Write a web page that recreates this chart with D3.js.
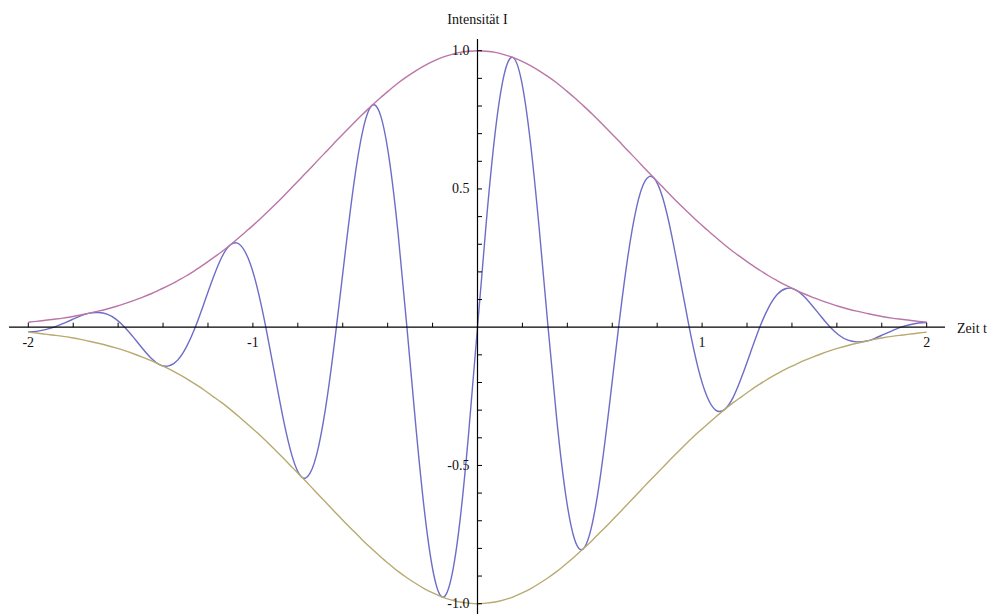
<!DOCTYPE html>
<html>
<head>
<meta charset="utf-8">
<script src="https://cdn.jsdelivr.net/npm/d3@7"></script>
<style>
  html, body { margin: 0; padding: 0; background: #fff; }
  svg { display: block; }
  text { font-family: "Liberation Serif", "Times New Roman", serif; fill: #111; }
</style>
</head>
<body>
<svg id="chart" width="995" height="614"></svg>
<script>
// Time samples t (s)
const time = [-2, -1.9635, -1.9242, -1.8850, -1.8457, -1.8064, -1.7671, -1.7279, -1.6886, -1.6493, -1.6101,
  -1.5708, -1.5315, -1.4923, -1.4530, -1.4137, -1.3744, -1.3352, -1.2959, -1.2566, -1.2174,
  -1.1781, -1.1388, -1.0996, -1.0603, -1.0210, -0.9817, -0.9425, -0.9032, -0.8639, -0.8247,
  -0.7854, -0.7461, -0.7069, -0.6676, -0.6283, -0.5890, -0.5498, -0.5105, -0.4712, -0.4320,
  -0.3927, -0.3534, -0.3142, -0.2749, -0.2356, -0.1963, -0.1571, -0.1178, -0.0785, -0.0393,
  0,
  0.0393, 0.0785, 0.1178, 0.1571, 0.1963, 0.2356, 0.2749, 0.3142, 0.3534, 0.3927,
  0.4320, 0.4712, 0.5105, 0.5498, 0.5890, 0.6283, 0.6676, 0.7069, 0.7461, 0.7854,
  0.8247, 0.8639, 0.9032, 0.9425, 0.9817, 1.0210, 1.0603, 1.0996, 1.1388, 1.1781,
  1.2174, 1.2566, 1.2959, 1.3352, 1.3744, 1.4137, 1.4530, 1.4923, 1.5315, 1.5708,
  1.6101, 1.6493, 1.6886, 1.7279, 1.7671, 1.8064, 1.8457, 1.8850, 1.9242, 1.9635, 2];

// Intensity of the wave packet
const wave = [-0.017, -0.015, -0.009, 0, 0.013, 0.027, 0.041, 0.051, 0.053, 0.047, 0.029,
  0, -0.037, -0.076, -0.112, -0.136, -0.140, -0.119, -0.071, 0, 0.087,
  0.176, 0.253, 0.298, 0.300, 0.249, 0.146, 0, -0.169, -0.335, -0.468,
  -0.540, -0.529, -0.429, -0.245, 0, 0.270, 0.523, 0.712, 0.801, 0.767,
  0.606, 0.338, 0, -0.355, -0.669, -0.889, -0.976, -0.911, -0.703, -0.382,
  0,
  0.382, 0.703, 0.911, 0.976, 0.889, 0.669, 0.355, 0, -0.338, -0.606,
  -0.767, -0.801, -0.712, -0.523, -0.270, 0, 0.245, 0.429, 0.529, 0.540,
  0.468, 0.335, 0.169, 0, -0.146, -0.249, -0.300, -0.298, -0.253, -0.176,
  -0.087, 0, 0.071, 0.119, 0.140, 0.136, 0.112, 0.076, 0.037, 0,
  -0.029, -0.047, -0.053, -0.051, -0.041, -0.027, -0.013, 0, 0.009, 0.015, 0.017];

// Upper envelope
const envUpper = [0.018, 0.021, 0.025, 0.029, 0.033, 0.038, 0.044, 0.051, 0.058, 0.066, 0.075,
  0.085, 0.096, 0.108, 0.121, 0.136, 0.151, 0.168, 0.186, 0.206, 0.227,
  0.250, 0.273, 0.298, 0.325, 0.353, 0.381, 0.411, 0.442, 0.474, 0.507,
  0.540, 0.573, 0.607, 0.640, 0.674, 0.707, 0.739, 0.771, 0.801, 0.830,
  0.857, 0.883, 0.906, 0.927, 0.946, 0.962, 0.976, 0.986, 0.994, 0.998,
  1,
  0.998, 0.994, 0.986, 0.976, 0.962, 0.946, 0.927, 0.906, 0.883, 0.857,
  0.830, 0.801, 0.771, 0.739, 0.707, 0.674, 0.640, 0.607, 0.573, 0.540,
  0.507, 0.474, 0.442, 0.411, 0.381, 0.353, 0.325, 0.298, 0.273, 0.250,
  0.227, 0.206, 0.186, 0.168, 0.151, 0.136, 0.121, 0.108, 0.096, 0.085,
  0.075, 0.066, 0.058, 0.051, 0.044, 0.038, 0.033, 0.029, 0.025, 0.021, 0.018];

// Lower envelope
const envLower = [-0.018, -0.021, -0.025, -0.029, -0.033, -0.038, -0.044, -0.051, -0.058, -0.066, -0.075,
  -0.085, -0.096, -0.108, -0.121, -0.136, -0.151, -0.168, -0.186, -0.206, -0.227,
  -0.250, -0.273, -0.298, -0.325, -0.353, -0.381, -0.411, -0.442, -0.474, -0.507,
  -0.540, -0.573, -0.607, -0.640, -0.674, -0.707, -0.739, -0.771, -0.801, -0.830,
  -0.857, -0.883, -0.906, -0.927, -0.946, -0.962, -0.976, -0.986, -0.994, -0.998,
  -1,
  -0.998, -0.994, -0.986, -0.976, -0.962, -0.946, -0.927, -0.906, -0.883, -0.857,
  -0.830, -0.801, -0.771, -0.739, -0.707, -0.674, -0.640, -0.607, -0.573, -0.540,
  -0.507, -0.474, -0.442, -0.411, -0.381, -0.353, -0.325, -0.298, -0.273, -0.250,
  -0.227, -0.206, -0.186, -0.168, -0.151, -0.136, -0.121, -0.108, -0.096, -0.085,
  -0.075, -0.066, -0.058, -0.051, -0.044, -0.038, -0.033, -0.029, -0.025, -0.021, -0.018];

const xTickLabels = [-2, -1, 1, 2];
const yTickLabels = [-1.0, -0.5, 0.5, 1.0];

const svg = d3.select("#chart");

const x = d3.scaleLinear().domain([-2, 2]).range([28.3, 926.7]);
const y = d3.scaleLinear().domain([-1, 1]).range([603.7, 50.7]);

const x0 = x(0), y0 = y(0);

const line = vals => d3.line()
  .x((d, i) => x(time[i]))
  .y(d => y(d))
  .curve(d3.curveNatural)(vals);

const series = [
  { values: wave, color: "#6d6dc8" },
  { values: envUpper, color: "#bb76a8" },
  { values: envLower, color: "#b8aa70" }
];

svg.append("g").selectAll("path")
  .data(series)
  .join("path")
  .attr("d", d => line(d.values))
  .attr("fill", "none")
  .attr("stroke", d => d.color)
  .attr("stroke-width", 1.4);

// Axes
const axes = svg.append("g").attr("stroke", "#000");

axes.append("line")
  .attr("x1", 9).attr("x2", 945)
  .attr("y1", y0).attr("y2", y0)
  .attr("stroke-width", 1.2);

axes.append("line")
  .attr("x1", x0).attr("x2", x0)
  .attr("y1", 39).attr("y2", 614)
  .attr("stroke-width", 1.2);

// x ticks every 0.2, pointing up
const xTicks = d3.range(-10, 11).map(i => i / 5).filter(v => Math.abs(v) > 1e-9);
axes.append("g").selectAll("line")
  .data(xTicks)
  .join("line")
  .attr("x1", d => x(d)).attr("x2", d => x(d))
  .attr("y1", y0).attr("y2", y0 - 4.5)
  .attr("stroke-width", 1);

// y ticks every 0.1, pointing right
const yTicks = d3.range(-10, 11).map(i => i / 10).filter(v => Math.abs(v) > 1e-9);
axes.append("g").selectAll("line")
  .data(yTicks)
  .join("line")
  .attr("x1", x0).attr("x2", x0 + 4.5)
  .attr("y1", d => y(d)).attr("y2", d => y(d))
  .attr("stroke-width", 1);

// Tick labels
svg.append("g").selectAll("text")
  .data(xTickLabels)
  .join("text")
  .attr("x", d => x(d))
  .attr("y", y0 + 20)
  .attr("text-anchor", "middle")
  .attr("font-size", 14)
  .text(d => d3.format("d")(d).replace("−", "-"));

svg.append("g").selectAll("text")
  .data(yTickLabels)
  .join("text")
  .attr("x", x0 - 8)
  .attr("y", d => y(d) + 4.5)
  .attr("text-anchor", "end")
  .attr("font-size", 14)
  .text(d => d3.format(".1f")(d).replace("−", "-"));

// Axis titles
svg.append("text")
  .attr("x", x0)
  .attr("y", 24)
  .attr("text-anchor", "middle")
  .attr("font-size", 14)
  .text("Intensität I");

svg.append("text")
  .attr("x", 957)
  .attr("y", 333)
  .attr("font-size", 14)
  .text("Zeit t");
</script>
</body>
</html>
